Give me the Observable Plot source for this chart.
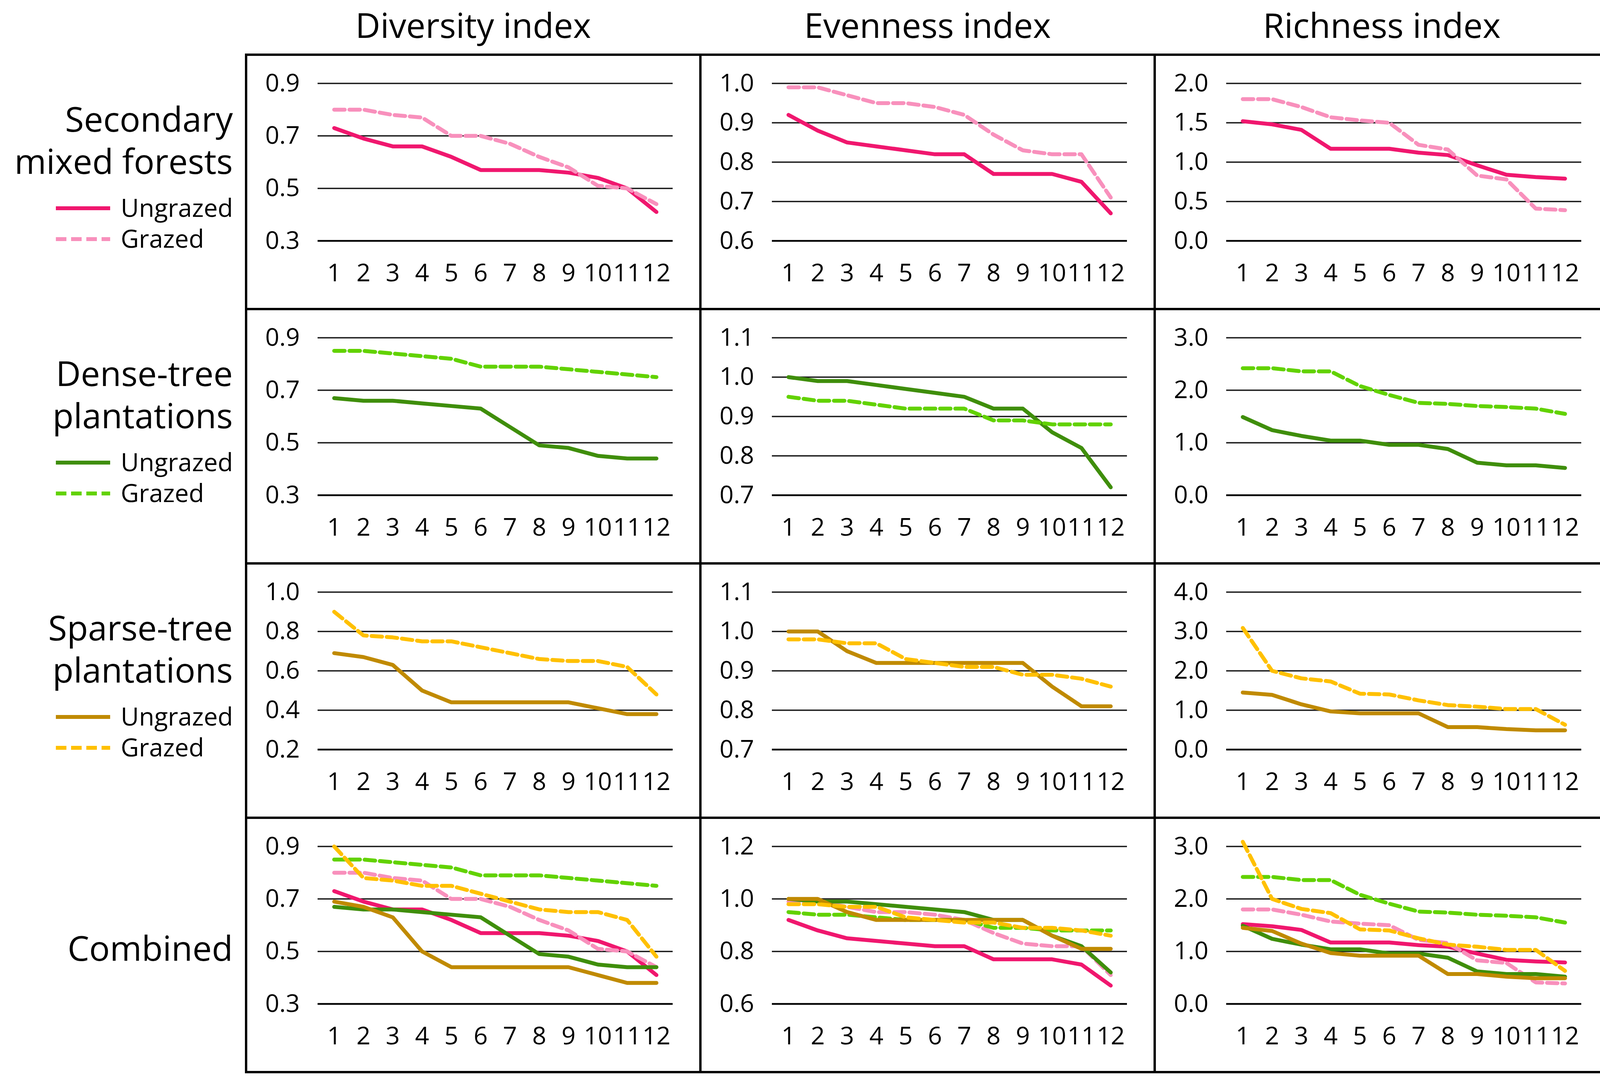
<!DOCTYPE html>
<html>
<head>
<meta charset="utf-8">
<script src="https://cdn.jsdelivr.net/npm/d3@7"></script>
<script src="https://cdn.jsdelivr.net/npm/@observablehq/plot@0.6"></script>
<style>
  body { margin: 0; background: #fff; }
  #root { position: relative; width: 4148px; height: 2777px; background: #fff; font-family: "Open Sans", sans-serif; }
  .cell { position: absolute; }
  #overlay { position: absolute; left: 0; top: 0; pointer-events: none; z-index: 5; }
</style>
</head>
<body>
<div id="root"></div>
<script>
// ---- categories and labels ----
const sites = [1, 2, 3, 4, 5, 6, 7, 8, 9, 10, 11, 12];
const columnTitles = ["Diversity index", "Evenness index", "Richness index"];
const rowTitles = [["Secondary", "mixed forests"], ["Dense-tree", "plantations"], ["Sparse-tree", "plantations"], ["Combined"]];
const seriesNames = ["Ungrazed", "Grazed"];

// ---- series values ----
const smfDivU = [0.73, 0.69, 0.66, 0.66, 0.62, 0.57, 0.57, 0.57, 0.56, 0.54, 0.50, 0.41];
const smfDivG = [0.80, 0.80, 0.78, 0.77, 0.70, 0.70, 0.67, 0.62, 0.58, 0.51, 0.50, 0.44];
const smfEveU = [0.92, 0.88, 0.85, 0.84, 0.83, 0.82, 0.82, 0.77, 0.77, 0.77, 0.75, 0.67];
const smfEveG = [0.99, 0.99, 0.97, 0.95, 0.95, 0.94, 0.92, 0.87, 0.83, 0.82, 0.82, 0.71];
const smfRicU = [1.52, 1.48, 1.41, 1.17, 1.17, 1.17, 1.12, 1.09, 0.96, 0.84, 0.81, 0.79];
const smfRicG = [1.80, 1.80, 1.70, 1.57, 1.53, 1.50, 1.22, 1.16, 0.83, 0.78, 0.41, 0.39];

const dtpDivU = [0.67, 0.66, 0.66, 0.65, 0.64, 0.63, 0.56, 0.49, 0.48, 0.45, 0.44, 0.44];
const dtpDivG = [0.85, 0.85, 0.84, 0.83, 0.82, 0.79, 0.79, 0.79, 0.78, 0.77, 0.76, 0.75];
const dtpEveU = [1.00, 0.99, 0.99, 0.98, 0.97, 0.96, 0.95, 0.92, 0.92, 0.86, 0.82, 0.72];
const dtpEveG = [0.95, 0.94, 0.94, 0.93, 0.92, 0.92, 0.92, 0.89, 0.89, 0.88, 0.88, 0.88];
const dtpRicU = [1.49, 1.24, 1.13, 1.04, 1.04, 0.96, 0.96, 0.88, 0.62, 0.57, 0.57, 0.52];
const dtpRicG = [2.42, 2.42, 2.36, 2.36, 2.08, 1.91, 1.76, 1.74, 1.70, 1.68, 1.65, 1.55];

const stpDivU = [0.69, 0.67, 0.63, 0.50, 0.44, 0.44, 0.44, 0.44, 0.44, 0.41, 0.38, 0.38];
const stpDivG = [0.90, 0.78, 0.77, 0.75, 0.75, 0.72, 0.69, 0.66, 0.65, 0.65, 0.62, 0.48];
const stpEveU = [1.00, 1.00, 0.95, 0.92, 0.92, 0.92, 0.92, 0.92, 0.92, 0.86, 0.81, 0.81];
const stpEveG = [0.98, 0.98, 0.97, 0.97, 0.93, 0.92, 0.91, 0.91, 0.89, 0.89, 0.88, 0.86];
const stpRicU = [1.45, 1.39, 1.15, 0.97, 0.92, 0.92, 0.92, 0.57, 0.57, 0.52, 0.49, 0.49];
const stpRicG = [3.09, 2.00, 1.81, 1.73, 1.42, 1.40, 1.25, 1.13, 1.09, 1.03, 1.03, 0.63];

// ---- tick values per panel ----
const ticksSmf = [[0.3, 0.5, 0.7, 0.9], [0.6, 0.7, 0.8, 0.9, 1.0], [0.0, 0.5, 1.0, 1.5, 2.0]];
const ticksDtp = [[0.3, 0.5, 0.7, 0.9], [0.7, 0.8, 0.9, 1.0, 1.1], [0.0, 1.0, 2.0, 3.0]];
const ticksStp = [[0.2, 0.4, 0.6, 0.8, 1.0], [0.7, 0.8, 0.9, 1.0, 1.1], [0.0, 1.0, 2.0, 3.0, 4.0]];
const ticksAll = [[0.3, 0.5, 0.7, 0.9], [0.6, 0.8, 1.0, 1.2], [0.0, 1.0, 2.0, 3.0]];

// ---- colours ----
const colSmf = ["#F0176E", "#F890BC"];
const colDtp = ["#3F8E0B", "#62D200"];
const colStp = ["#C08A00", "#FFC000"];

// ---- assemble ----
const groups = [
  {cols: colSmf, vals: [[smfDivU, smfDivG], [smfEveU, smfEveG], [smfRicU, smfRicG]], ticks: ticksSmf},
  {cols: colDtp, vals: [[dtpDivU, dtpDivG], [dtpEveU, dtpEveG], [dtpRicU, dtpRicG]], ticks: ticksDtp},
  {cols: colStp, vals: [[stpDivU, stpDivG], [stpEveU, stpEveG], [stpRicU, stpRicG]], ticks: ticksStp}
];

// layout geometry (pixels)
const colX = [630, 1793, 2956];
const rowY = [140, 791, 1442, 2093];
const cellW = 1163, cellH = 651;

const fmt = d3.format(".1f");

function panel(ticks, series) {
  const lo = ticks[0], hi = ticks[ticks.length - 1];
  const marks = [
    Plot.ruleY(ticks.slice(1), {stroke: "#1c1c1c", strokeWidth: 3.5}),
    Plot.ruleY([lo], {stroke: "#000", strokeWidth: 4.5}),
    Plot.axisY(ticks, {tickSize: 0, tickPadding: 46, tickFormat: fmt, fontSize: 63, label: null}),
    Plot.axisX(sites, {tickSize: 0, tickPadding: 59, fontSize: 63, label: null})
  ];
  for (const s of series) {
    marks.push(Plot.line(sites, {
      x: d => d,
      y: (d, i) => s.values[i],
      stroke: s.color,
      strokeWidth: 10,
      strokeLinejoin: "round",
      strokeDasharray: s.dashed ? "27,12" : undefined
    }));
  }
  return Plot.plot({
    width: cellW, height: cellH,
    marginLeft: 183, marginRight: 71, marginTop: 73, marginBottom: 175,
    x: {type: "point", domain: sites, padding: 0.5, label: null},
    y: {domain: [lo, hi], label: null},
    style: {fontFamily: "Open Sans", fontSize: "63px", color: "#000", background: "none", overflow: "visible"},
    marks
  });
}

const root = document.getElementById("root");
function place(el, c, r) {
  const d = document.createElement("div");
  d.className = "cell";
  d.style.left = colX[c] + "px";
  d.style.top = rowY[r] + "px";
  d.appendChild(el);
  root.appendChild(d);
}

groups.forEach((g, r) => {
  for (let c = 0; c < 3; c++) {
    const series = [
      {values: g.vals[c][0], color: g.cols[0], dashed: false},
      {values: g.vals[c][1], color: g.cols[1], dashed: true}
    ];
    place(panel(g.ticks[c], series), c, r);
  }
});
for (let c = 0; c < 3; c++) {
  const series = [];
  groups.forEach(g => {
    series.push({values: g.vals[c][0], color: g.cols[0], dashed: false});
    series.push({values: g.vals[c][1], color: g.cols[1], dashed: true});
  });
  place(panel(ticksAll[c], series), c, 3);
}

// ---- overlay: titles, row labels, legends, cell borders ----
const svg = d3.select(root).append("svg").attr("id", "overlay")
  .attr("width", 4148).attr("height", 2777)
  .style("font-family", "'Open Sans', sans-serif");

columnTitles.forEach((t, c) => {
  svg.append("text").attr("x", colX[c] + cellW / 2).attr("y", 97)
    .attr("text-anchor", "middle").attr("font-size", 88).attr("fill", "#000").text(t);
});

rowTitles.forEach((lines, r) => {
  const top = rowY[r];
  if (lines.length === 1) {
    svg.append("text").attr("x", 596).attr("y", top + 366)
      .attr("text-anchor", "end").attr("font-size", 88).attr("fill", "#000").text(lines[0]);
  } else {
    lines.forEach((l, k) => {
      svg.append("text").attr("x", 596).attr("y", top + 197 + k * 108)
        .attr("text-anchor", "end").attr("font-size", 88).attr("fill", "#000").text(l);
    });
  }
  if (r < 3) {
    const cols = groups[r].cols;
    seriesNames.forEach((n, k) => {
      const ly = top + 393 + k * 79;
      svg.append("line").attr("x1", 143).attr("x2", 282).attr("y1", ly).attr("y2", ly)
        .attr("stroke", cols[k]).attr("stroke-width", 10)
        .attr("stroke-dasharray", k === 1 ? "27,12" : null);
      svg.append("text").attr("x", 309).attr("y", ly + 22)
        .attr("font-size", 64).attr("fill", "#000").text(n);
    });
  }
});

const xEdges = [630, 1793, 2956, 4119];
const yEdges = [140, 791, 1442, 2093, 2744];
xEdges.forEach(x => svg.append("line").attr("x1", x).attr("x2", x).attr("y1", 140).attr("y2", 2744)
  .attr("stroke", "#000").attr("stroke-width", 6).attr("stroke-linecap", "square"));
yEdges.forEach(y => svg.append("line").attr("x1", 630).attr("x2", 4119).attr("y1", y).attr("y2", y)
  .attr("stroke", "#000").attr("stroke-width", 6).attr("stroke-linecap", "square"));
</script>
</body>
</html>
